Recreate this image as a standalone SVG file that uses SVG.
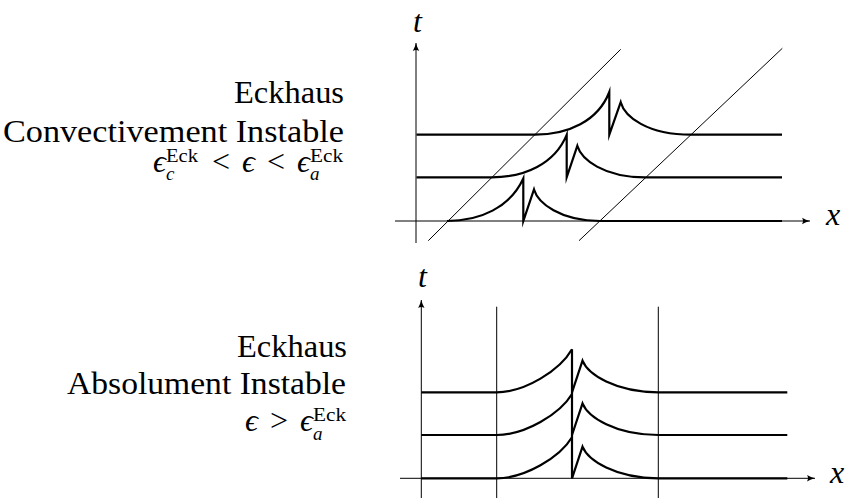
<svg xmlns="http://www.w3.org/2000/svg" width="846" height="498" viewBox="0 0 846 498">
<style>
.thin{fill:none;stroke:#000;stroke-width:1}
.thick{fill:none;stroke:#000;stroke-width:2.2;stroke-linejoin:miter;stroke-miterlimit:20}
.lbl{font-family:"Liberation Serif","DejaVu Serif",serif;font-size:32px;fill:#000}
.it{font-style:italic}
.sm{font-size:19px}
</style>
<defs>
<marker id="arr" markerUnits="userSpaceOnUse" markerWidth="10" markerHeight="8" refX="8" refY="4" orient="auto">
<path d="M0,0.8 Q4,3 8,4 Q4,5 0,7.2 Q2,4 0,0.8 Z" fill="#000"/>
</marker>
</defs>
<g id="labels-top">
<text class="lbl" x="344" y="103" text-anchor="end" textLength="110" lengthAdjust="spacingAndGlyphs">Eckhaus</text>
<text class="lbl" x="344" y="142" text-anchor="end" textLength="341" lengthAdjust="spacingAndGlyphs">Convectivement Instable</text>
<text class="lbl it" x="153" y="172">ϵ</text>
<text class="lbl sm" x="166" y="162" textLength="32" lengthAdjust="spacingAndGlyphs">Eck</text>
<text class="lbl sm it" x="166" y="180">c</text>
<text class="lbl" x="221" y="172" text-anchor="middle">&lt;</text>
<text class="lbl it" x="242" y="172">ϵ</text>
<text class="lbl" x="276" y="172" text-anchor="middle">&lt;</text>
<text class="lbl it" x="297" y="172">ϵ</text>
<text class="lbl sm" x="310" y="162" textLength="33" lengthAdjust="spacingAndGlyphs">Eck</text>
<text class="lbl sm it" x="310" y="180">a</text>
</g>
<g id="labels-bottom">
<text class="lbl" x="347" y="357" text-anchor="end" textLength="110" lengthAdjust="spacingAndGlyphs">Eckhaus</text>
<text class="lbl" x="346" y="394" text-anchor="end" textLength="279" lengthAdjust="spacingAndGlyphs">Absolument Instable</text>
<text class="lbl it" x="245" y="431">ϵ</text>
<text class="lbl" x="279" y="431" text-anchor="middle">&gt;</text>
<text class="lbl it" x="300" y="431">ϵ</text>
<text class="lbl sm" x="313" y="421" textLength="33" lengthAdjust="spacingAndGlyphs">Eck</text>
<text class="lbl sm it" x="313" y="440">a</text>
</g>
<g id="plot-top">
<line class="thin" x1="416" y1="243" x2="416" y2="43" marker-end="url(#arr)"/>
<line class="thin" x1="395" y1="221" x2="810" y2="221" marker-end="url(#arr)"/>
<text class="lbl it" x="413" y="32">t</text>
<text class="lbl it" x="826" y="225">x</text>
<line class="thin" x1="428.3" y1="240.7" x2="620.7" y2="49.3"/>
<line class="thin" x1="579" y1="240.7" x2="782.3" y2="48.3"/>
<path class="thick" d="M447,221 C480,221 510,207.5 523.3,178.5 L523.3,221 L534,189.5 C538,203 560,221 600,221 L782,221"/>
<path class="thick" d="M416.5,177.3 L491.7,177.3 C524.7,177.3 554.7,163.8 566.7,134.8 L566.7,177.3 L577.3,145.8 C581.3,159.3 603.3,177.3 645,177.3 L782,177.3"/>
<path class="thick" d="M416.5,134.7 L535,134.7 C568,134.7 598,121.2 609.3,92 L609.3,134.7 L620.7,102.2 C624.7,116.7 647,134.7 691,134.7 L782,134.7"/>
</g>
<g id="plot-bottom">
<line class="thin" x1="421.3" y1="498" x2="421.3" y2="300" marker-end="url(#arr)"/>
<line class="thin" x1="400" y1="478.3" x2="815" y2="478.3" marker-end="url(#arr)"/>
<text class="lbl it" x="418" y="287">t</text>
<text class="lbl it" x="830" y="483">x</text>
<line class="thin" x1="496.7" y1="306.7" x2="496.7" y2="498"/>
<line class="thin" x1="658.3" y1="306.7" x2="658.3" y2="498"/>
<path class="thick" d="M572,349.3 L572,478.3"/>
<path class="thick" d="M421.3,392.3 L496.7,392.3 C525,392.3 560,370.3 572,349.3 M572,392.3 L582.5,360.7 C588,374.3 615,392.3 658.3,392.3 L787.3,392.3"/>
<path class="thick" d="M421.3,435 L496.7,435 C525,435 560,414 572,394 M572,435 L582.5,403.4 C588,417 615,435 658.3,435 L787.3,435"/>
<path class="thick" d="M421.3,478.3 L496.7,478.3 C525,478.3 560,457.3 572,437.3 M572,478.3 L582.5,446.7 C588,460.3 615,478.3 658.3,478.3 L787.3,478.3"/>
</g>
</svg>
